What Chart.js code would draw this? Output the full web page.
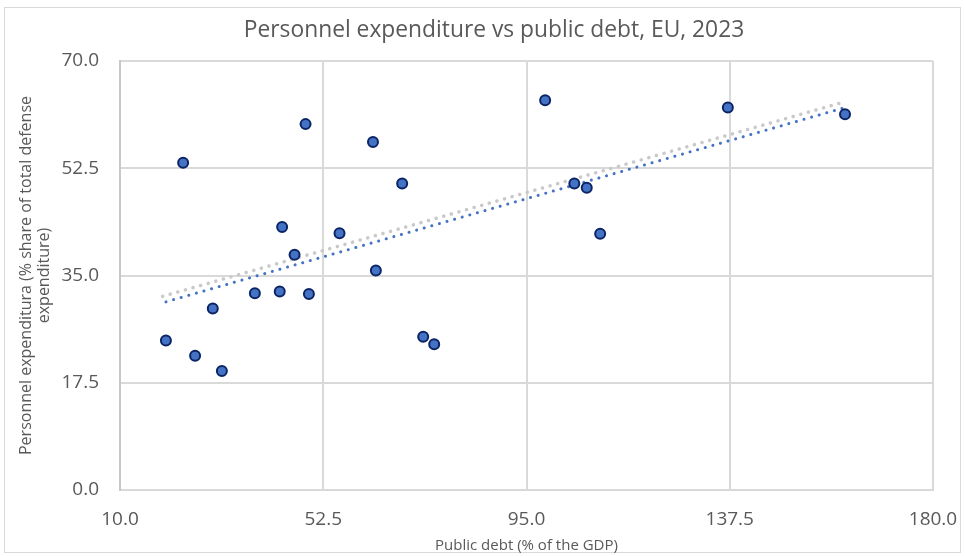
<!DOCTYPE html>
<html>
<head>
<meta charset="utf-8">
<script src="https://cdn.jsdelivr.net/npm/chart.js@4.4.1/dist/chart.umd.min.js"></script>
<style>
  html, body { margin: 0; padding: 0; background: #fff; }
  #wrap { width: 965px; height: 556px; }
</style>
</head>
<body>
<div id="wrap"><canvas id="myChart" width="965" height="556"></canvas></div>
<script>
// Data
const debt = [19.6, 23.2, 25.7, 29.4, 31.3, 38.2, 43.4, 43.9, 46.5, 48.8, 49.5, 55.9,
  62.9, 63.5, 69.0, 73.4, 75.7, 98.9, 105.0, 107.6, 110.4, 137.1, 161.6];
const personnel = [24.4, 53.4, 21.9, 29.6, 19.4, 32.1, 32.4, 42.9, 38.4, 59.7, 32.0, 41.9,
  56.8, 35.8, 50.0, 25.0, 23.8, 63.6, 50.0, 49.3, 41.8, 62.4, 61.3];

// Trend lines (end points)
const trendBlueX = [19.6, 161.6];
const trendBlueY = [30.7, 62.4];
const trendGreyX = [18.9, 160.9];
const trendGreyY = [31.6, 63.2];

const xTicks = [10, 52.5, 95, 137.5, 180];
const yTicks = [0, 17.5, 35, 52.5, 70];

const titleText = 'Personnel expenditure vs public debt, EU, 2023';
const txtColor = '#595959';
const fontFam = "'Open Sans', 'DejaVu Sans', sans-serif";

function toPoints(xs, ys) {
  return xs.map((x, i) => ({ x: x, y: ys[i] }));
}

// background, frame and title
const framePlugin = {
  id: 'frame',
  beforeDraw(chart) {
    const ctx = chart.ctx;
    ctx.save();
    ctx.fillStyle = '#ffffff';
    ctx.fillRect(0, 0, chart.width, chart.height);
    ctx.strokeStyle = '#d9d9d9';
    ctx.lineWidth = 1;
    ctx.strokeRect(4.5, 7.5, 956, 545);
    ctx.restore();
  },
  afterDraw(chart) {
    const ctx = chart.ctx;
    ctx.save();
    ctx.fillStyle = txtColor;
    ctx.font = "22.8px " + fontFam;
    ctx.textAlign = 'center';
    ctx.textBaseline = 'middle';
    ctx.fillText(titleText, 494, 31);
    ctx.restore();
  }
};

const ctx = document.getElementById('myChart').getContext('2d');
const myChart = new Chart(ctx, {
  type: 'scatter',
  data: {
    datasets: [
      {
        label: 'Countries',
        data: toPoints(debt, personnel),
        backgroundColor: '#4472c4',
        borderColor: '#0b2463',
        borderWidth: 2,
        pointRadius: 5,
        order: 0
      },
      {
        label: 'Trend',
        type: 'line',
        data: toPoints(trendBlueX, trendBlueY),
        borderColor: '#4472c4',
        borderWidth: 3,
        borderDash: [0.1, 7.8],
        borderCapStyle: 'round',
        pointRadius: 0,
        fill: false,
        order: 1
      },
      {
        label: 'Trend 2',
        type: 'line',
        data: toPoints(trendGreyX, trendGreyY),
        borderColor: '#c9c9c9',
        borderWidth: 3.5,
        borderDash: [0.1, 7.8],
        borderCapStyle: 'round',
        pointRadius: 0,
        fill: false,
        order: 2
      }
    ]
  },
  options: {
    responsive: false,
    animation: false,
    layout: { padding: { left: 4, right: 32, top: 61, bottom: 0 } },
    plugins: {
      legend: { display: false },
      tooltip: { enabled: false },
      title: { display: false }
    },
    scales: {
      x: {
        type: 'linear',
        min: 10,
        max: 180,
        afterFit: (s) => { s.height = 66; s.paddingLeft = 0; s.paddingRight = 0; },
        afterBuildTicks: (s) => { s.ticks = xTicks.map(v => ({ value: v })); },
        ticks: {
          color: txtColor,
          font: { family: fontFam, size: 19 },
          padding: 18,
          maxRotation: 0,
          callback: (v) => Number(v).toFixed(1)
        },
        grid: { color: '#d9d9d9', lineWidth: 2, drawTicks: false },
        border: { color: '#d9d9d9', width: 2 },
        title: {
          display: true,
          text: 'Public debt (% of the GDP)',
          color: txtColor,
          font: { family: fontFam, size: 15 },
          padding: { top: 0, bottom: 1 }
        }
      },
      y: {
        type: 'linear',
        min: 0,
        max: 70,
        afterFit: (s) => { s.width = 116; s.paddingTop = 0; s.paddingBottom = 0; },
        afterBuildTicks: (s) => { s.ticks = yTicks.map(v => ({ value: v })); },
        ticks: {
          color: txtColor,
          font: { family: fontFam, size: 19 },
          padding: 21,
          callback: (v) => Number(v).toFixed(1)
        },
        grid: { color: '#d9d9d9', lineWidth: 2, drawTicks: false },
        border: { color: '#c8c8c8', width: 2 },
        title: {
          display: true,
          text: ['Personnel expenditura (% share of total defense', 'expenditure)'],
          color: txtColor,
          font: { family: fontFam, size: 16, lineHeight: 1.1 },
          padding: { top: 14, bottom: 0 }
        }
      }
    }
  },
  plugins: [framePlugin]
});
</script>
</body>
</html>
